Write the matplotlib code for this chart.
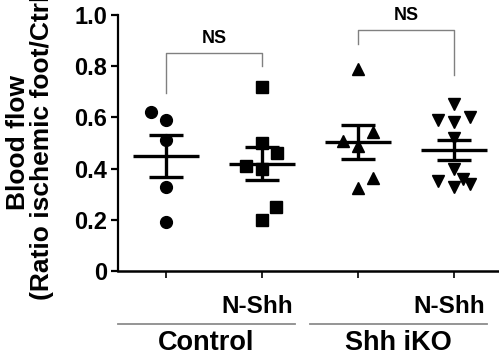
import numpy as np
import matplotlib
matplotlib.use("Agg")
import matplotlib.pyplot as plt

plt.rcParams['font.family'] = ['Liberation Sans', 'DejaVu Sans']
plt.rcParams['font.weight'] = 'bold'

# -----------------------------
# data
# -----------------------------
ctrl = [0.62, 0.59, 0.513, 0.33, 0.19]
ctrl_nshh = [0.72, 0.50, 0.46, 0.41, 0.40, 0.25, 0.20]
iko = [0.79, 0.545, 0.506, 0.487, 0.364, 0.325]
iko_nshh = [0.654, 0.60, 0.59, 0.583, 0.52, 0.40, 0.36, 0.35, 0.34, 0.33]

groups = [ctrl, ctrl_nshh, iko, iko_nshh]
markers = ['o', 's', '^', 'v']
# horizontal scatter of the dots inside each column
jitter = [
    [-0.16, 0, 0, 0, 0],
    [0, 0, 0.16, -0.17, 0, 0.15, 0],
    [0, 0.16, -0.16, 0, 0.16, 0],
    [0, 0.17, -0.17, 0, 0, 0, 0.09, -0.17, 0.17, 0],
]
yticks = [0, 0.2, 0.4, 0.6, 0.8, 1.0]
ytick_labels = ['0', '0.2', '0.4', '0.6', '0.8', '1.0']
treat_labels = ['N-Shh', 'N-Shh']
genotype_labels = ['Control', 'Shh iKO']

fig = plt.figure(figsize=(4.99, 3.63), dpi=100)
ax = fig.add_axes([0.2365, 0.2534, 0.7635, 0.7052])

xs = np.arange(1, len(groups) + 1)
for x, vals, m, jit in zip(xs, groups, markers, jitter):
    v = np.array(vals)
    ax.plot(x + np.array(jit), v, linestyle='none', marker=m,
            markersize=8.5, color='black', clip_on=False, zorder=3)
    mean = v.mean()
    sem = v.std(ddof=1) / np.sqrt(len(v))
    ax.hlines(mean, x - 0.34, x + 0.34, color='black', lw=2.4, zorder=4)
    ax.errorbar(x, mean, yerr=sem, fmt='none', ecolor='black',
                elinewidth=2.4, capsize=12, capthick=2.4, zorder=4)

# significance brackets
brackets = [(1, 2, 0.697, 0.80, 0.853), (3, 4, 0.885, 0.767, 0.943)]
for x1, x2, yl, yr, yt in brackets:
    ax.plot([x1, x1, x2, x2], [yl, yt, yt, yr], color='#808080', lw=1,
            clip_on=False)
    ax.text((x1 + x2) / 2, yt + 0.022, 'NS', ha='center', va='bottom',
            fontsize=13, fontweight='bold', clip_on=False)

ax.set_xlim(0.5, 4.47)
ax.set_ylim(0, 1.0)
ax.set_yticks(yticks)
ax.set_yticklabels(ytick_labels, fontsize=17, fontweight='bold')
ax.set_xticks(xs)
ax.set_xticklabels([])
ax.tick_params(axis='y', length=5, width=1.6, pad=3)
ax.tick_params(axis='x', length=5, width=1.2)
ax.spines['top'].set_visible(False)
ax.spines['right'].set_visible(False)
ax.spines['left'].set_linewidth(1.6)
ax.spines['bottom'].set_linewidth(1.8)

# group labels below the axis
trans = ax.get_xaxis_transform()
for x, lab in zip([2, 4], treat_labels):
    ax.text(x + 0.32, -0.137, lab, transform=trans, ha='right', va='center',
            fontsize=17.5, fontweight='bold')
for (x1, x2), lab in zip([(0.5, 2.34), (2.5, 4.35)], genotype_labels):
    ax.plot([x1, x2], [-0.207, -0.207], transform=trans, color='#8c8c8c',
            lw=1.3, clip_on=False)
    ax.text((x1 + x2) / 2, -0.283, lab, transform=trans, ha='center',
            va='center', fontsize=19.5, fontweight='bold')

fig.text(30 / 499, 1 - 143 / 363, 'Blood flow\n(Ratio ischemic foot/Ctrl)',
         rotation=90, ha='center', va='center', multialignment='center',
         fontsize=19, fontweight='bold', linespacing=1.0)

fig.savefig('out.png', dpi=100)
